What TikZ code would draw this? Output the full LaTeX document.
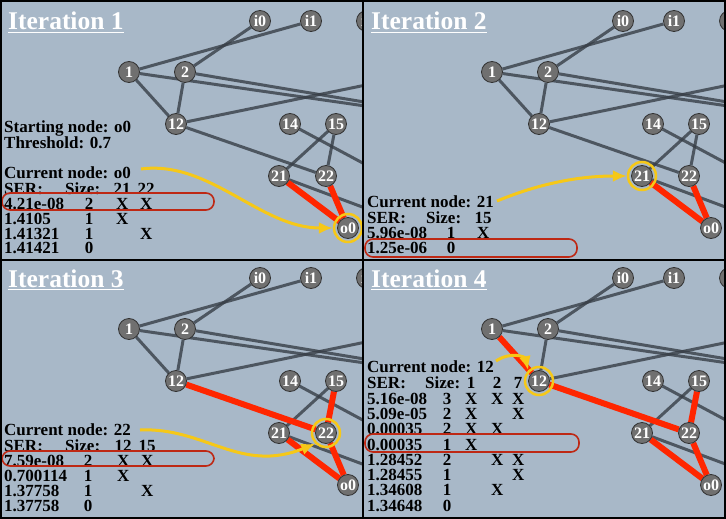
\documentclass[tikz,border=0pt]{standalone}
\usepackage{fontspec}
\setmainfont{Liberation Serif}
\usepackage{array}
\usetikzlibrary{arrows.meta}
\newcolumntype{L}{w{l}{0pt}}
\newcolumntype{C}{w{c}{0pt}}
\renewcommand{\arraystretch}{0.8}
\definecolor{panelbg}{RGB}{168,184,200}
\definecolor{linkgray}{RGB}{55,62,70}
\definecolor{hotred}{RGB}{255,38,0}
\definecolor{sunny}{RGB}{246,200,24}
\definecolor{boxred}{RGB}{190,40,20}
\definecolor{nodefill}{RGB}{112,112,112}
\definecolor{nodeedge}{RGB}{50,50,50}
\pgfdeclarelayer{links}
\pgfsetlayers{links,main}
\tikzset{
  vertex/.style={circle, draw=nodeedge, fill=nodefill, line width=0.8pt, minimum size=21pt, inner sep=0pt, text=white, font=\fontsize{16}{16}\selectfont\bfseries},
  link/.style={draw=linkgray, line width=3pt, opacity=0.8},
  hot/.style={draw=hotred, line width=6pt},
  ring/.style={circle, draw=sunny, line width=2.5pt, minimum size=28pt, inner sep=0pt},
  pointer/.style={draw=sunny, line width=3pt, -{Latex[length=14pt,width=12pt]}},
  pick/.style={draw=boxred, line width=1.6pt, rounded corners=8pt},
  heading/.style={anchor=base west, inner sep=0pt, text=white, font=\fontsize{25.5}{30}\selectfont\bfseries},
  info/.style={anchor=north west, inner sep=0pt, font=\fontsize{17}{15}\selectfont\bfseries},
}
% the network, in the coordinates of one panel
\newcommand{\drawnet}{%
  \node[vertex] (i0) at (260,21) {i0};
  \node[vertex] (i1) at (311,21) {i1};
  \node[vertex] (i2) at (367,21) {i2};
  \node[vertex] (n1) at (129,72) {1};
  \node[vertex] (n2) at (185,72) {2};
  \node[vertex] (n12) at (176,124) {12};
  \node[vertex] (n14) at (290,124) {14};
  \node[vertex] (n15) at (336,124) {15};
  \node[vertex] (n21) at (279,176) {21};
  \node[vertex] (n22) at (326,176) {22};
  \node[vertex] (o0) at (348,228) {o0};
  % links that leave the panel on the right
  \coordinate (x1) at (400,111);
  \coordinate (x2) at (400,108);
  \coordinate (x12) at (400,78);
  \coordinate (x14) at (400,183);
  \coordinate (x21) at (400,221);
}
\newcommand{\drawlinks}[1]{%
  \fill[panelbg] (0,-5) rectangle (363,265);
  \foreach \a/\b in {n1/i1, n2/i0, n1/n12, n2/n12, n1/x1, n2/x2, n12/x12, n12/n22,
                     n14/x14, n15/n21, n15/n22, n21/x21, n21/o0, n22/o0}
    \draw[link] (\a) -- (\b);
  \foreach \a/\b in {#1}
    \draw[hot] (\a) -- (\b);
}
\begin{document}
\begin{tikzpicture}[x=1pt, y=-1pt]
\useasboundingbox (0,0) rectangle (726,519);

% Iteration 1
\begin{scope}[name prefix=p1-]
  \clip (0,0) rectangle (363,260);
  \drawnet
  \begin{pgfonlayer}{links}
    \begin{scope}
      \clip (0,0) rectangle (363,260);
      \drawlinks{n21/o0, n22/o0}
    \end{scope}
  \end{pgfonlayer}
  \node[ring] (ring) at (o0) {};
  \node[heading] (title) at (8,30) {Iteration 1};
  \draw[white, line width=1.8pt] ([yshift=-2.5pt]title.base west) -- ([yshift=-2.5pt]title.base east);
  \node[info] (notes) at (4,121) {\begin{tabular}{@{}L@{\hspace{85pt}}C@{\hspace{33pt}}C@{\hspace{24pt}}C@{}}
    Starting node: o0\\
    Threshold: 0.7\\[15pt]
    Current node: o0\\
    SER: & \hspace*{-13pt}Size: & 21 & 22\\
    4.21e-08 & 2 & X & X\\
    1.4105 & 1 & X & \\
    1.41321 & 1 & & X\\
    1.41421 & 0 & &
  \end{tabular}};
  \draw[pick] (2,193) rectangle (214,210);
  \coordinate (cur) at (141,169);
  \draw[pointer] (cur) .. controls (210,160) and (260,228) .. (ring.west);
\end{scope}

% Iteration 2
\begin{scope}[shift={(363,0)}, name prefix=p2-]
  \clip (0,0) rectangle (363,260);
  \drawnet
  \begin{pgfonlayer}{links}
    \begin{scope}
      \clip (0,0) rectangle (363,260);
      \drawlinks{n21/o0, n22/o0}
    \end{scope}
  \end{pgfonlayer}
  \node[ring] (ring) at (n21) {};
  \node[heading] (title) at (8,30) {Iteration 2};
  \draw[white, line width=1.8pt] ([yshift=-2.5pt]title.base west) -- ([yshift=-2.5pt]title.base east);
  \node[info] (notes) at (4,196) {\begin{tabular}{@{}L@{\hspace{84pt}}C@{\hspace{32pt}}C@{}}
    Current node: 21\\
    SER: & \hspace*{-15pt}Size: & 15\\
    5.96e-08 & 1 & X\\
    1.25e-06 & 0 &
  \end{tabular}};
  \draw[pick] (2,239) rectangle (214,257);
  \coordinate (cur) at (134,201);
  \draw[pointer] (cur) .. controls (180,182) and (220,176) .. (ring.west);
\end{scope}

% Iteration 3
\begin{scope}[shift={(0,257)}, name prefix=p3-]
  \clip (0,3) rectangle (363,262);
  \drawnet
  \begin{pgfonlayer}{links}
    \begin{scope}
      \clip (0,3) rectangle (363,262);
      \drawlinks{n12/n22, n15/n22, n21/o0, n22/o0}
    \end{scope}
  \end{pgfonlayer}
  \node[ring] (ring) at (n22) {};
  \node[heading] (title) at (8,30) {Iteration 3};
  \draw[white, line width=1.8pt] ([yshift=-2.5pt]title.base west) -- ([yshift=-2.5pt]title.base east);
  \node[info] (notes) at (4,167) {\begin{tabular}{@{}L@{\hspace{84pt}}C@{\hspace{35pt}}C@{\hspace{24pt}}C@{}}
    Current node: 22\\
    SER: & \hspace*{-11pt}Size: & 12 & 15\\
    7.59e-08 & 2 & X & X\\
    0.700114 & 1 & X & \\
    1.37758 & 1 & & X\\
    1.37758 & 0 & &
  \end{tabular}};
  \draw[pick] (2,194) rectangle (214,209);
  \coordinate (cur) at (140,173);
  \draw[pointer] (cur) .. controls (205,170) and (240,217) .. (ring.south west);
\end{scope}

% Iteration 4
\begin{scope}[shift={(363,257)}, name prefix=p4-]
  \clip (0,3) rectangle (363,262);
  \drawnet
  \begin{pgfonlayer}{links}
    \begin{scope}
      \clip (0,3) rectangle (363,262);
      \drawlinks{n1/n12, n12/n22, n15/n22, n21/o0, n22/o0}
    \end{scope}
  \end{pgfonlayer}
  \node[ring] (ring) at (n12) {};
  \node[heading] (title) at (8,30) {Iteration 4};
  \draw[white, line width=1.8pt] ([yshift=-2.5pt]title.base west) -- ([yshift=-2.5pt]title.base east);
  \node[info] (notes) at (4,104) {\renewcommand{\arraystretch}{0.89}%
  \begin{tabular}{@{}L@{\hspace{80pt}}C@{\hspace{24pt}}C@{\hspace{26pt}}C@{\hspace{21pt}}C@{}}
    Current node: 12\\
    SER: & \hspace*{-9pt}Size: & 1 & 2 & 7\\
    5.16e-08 & 3 & X & X & X\\
    5.09e-05 & 2 & X & & X\\
    0.00035 & 2 & X & X & \\
    0.00035 & 1 & X & & \\
    1.28452 & 2 & & X & X\\
    1.28455 & 1 & & & X\\
    1.34608 & 1 & & X & \\
    1.34648 & 0 & & &
  \end{tabular}};
  \draw[pick] (2,177) rectangle (216,195);
  \coordinate (cur) at (133,104);
  \draw[pointer] (cur) .. controls (148,94) and (162,100) .. (ring.north west);
\end{scope}

% panel frames
\draw[line width=1.5pt] (363,0) -- (363,519);
\draw[line width=2pt] (0,260) -- (726,260);
\draw[line width=4pt] (0,0) rectangle (726,519);
\end{tikzpicture}
\end{document}
